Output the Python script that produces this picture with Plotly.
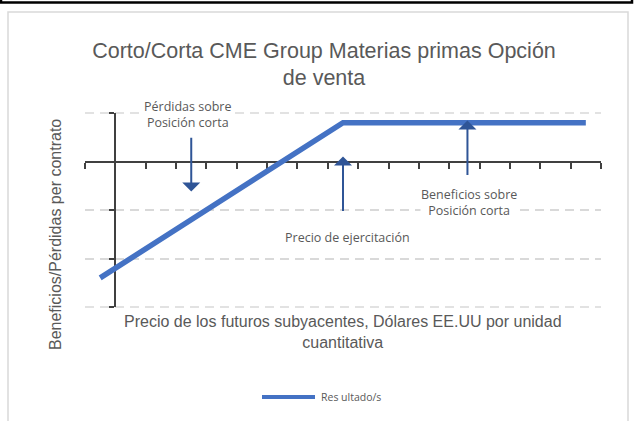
import plotly.graph_objects as go

# ---- data ----
categories = list(range(1, 18))
payoff = [-2.4, -2.0, -1.6, -1.2, -0.8, -0.4, 0.0, 0.4, 0.8,
          0.8, 0.8, 0.8, 0.8, 0.8, 0.8, 0.8, 0.8]
series_name = "Res ultado/s"
y_ticks = [-3, -2, -1, 0, 1]
x_ticks = [i + 0.5 for i in range(0, 18)]

title_text = "Corto/Corta CME Group Materias primas Opción<br>de venta"
x_title = "Precio de los futuros subyacentes, Dólares EE.UU por unidad<br>cuantitativa"
y_title = "Beneficios/Pérdidas per contrato"

W, H = 634, 421
L, R, T, B = 85, 33, 113, 114
PW, PH = W - L - R, H - T - B

def xp(px):
    return (px - L) / PW

def yp(py):
    return (H - B - py) / PH

BLUE = "#4472C4"
DARK = "#2F5597"
GREY = "#595959"
GRID = "#d9d9d9"

fig = go.Figure()
fig.add_trace(go.Scatter(
    x=categories, y=payoff, mode="lines", name=series_name,
    line=dict(color=BLUE, width=5.5), showlegend=False, hoverinfo="skip"))

fig.update_layout(
    width=W, height=H,
    margin=dict(l=L, r=R, t=T, b=B),
    paper_bgcolor="white", plot_bgcolor="white",
    title=dict(text=title_text, x=324 / W, xref="container", xanchor="center",
               y=1 - 57.5 / H, yref="container", yanchor="middle",
               font=dict(family="Liberation Sans, Arial", size=21.5, color=GREY)),
    xaxis=dict(range=[0.5, 17.5], anchor="free", position=0.75,
               showline=True, linecolor="#404040", linewidth=2,
               ticks="outside", tickvals=x_ticks, ticklen=6, tickwidth=2,
               tickcolor="#404040", showticklabels=False, showgrid=False,
               zeroline=False, layer="below traces"),
    yaxis=dict(range=[-3, 1], anchor="free", position=1 / 17,
               showline=True, linecolor="#404040", linewidth=2,
               ticks="outside", tickvals=y_ticks, ticklen=5, tickwidth=2,
               tickcolor="#404040", showticklabels=False,
               showgrid=True, gridcolor=GRID, gridwidth=1.6,
               griddash="9px,6px", zeroline=False, layer="below traces"),
    showlegend=False,
)

# edge gridlines (plotly drops grid lines at the plot edges)
for gy in (0, 1):
    fig.add_shape(type="line", xref="paper", yref="paper", x0=0, x1=1, y0=gy, y1=gy,
                  line=dict(color=GRID, width=1.6, dash="9px,6px"), layer="below")

# frames
fig.add_shape(type="rect", xref="paper", yref="paper",
              x0=xp(8), x1=xp(628), y0=yp(440), y1=yp(12),
              line=dict(color=GRID, width=1.5), layer="below")
fig.add_shape(type="rect", xref="paper", yref="paper",
              x0=xp(1), x1=xp(632), y0=yp(2.5), y1=yp(-20),
              line=dict(color="black", width=2.5), layer="below")

label_font = dict(family="Open Sans, Lato", size=12.5, color=GREY)

# arrows: (x, tip_y, tail_y)
arrows = [(4.0, -0.68, 0.52), (9.0, 0.165, -1.05), (13.1, 0.907, -0.31)]
for ax_, tip, tail in arrows:
    fig.add_annotation(x=ax_, y=tip, ax=ax_, ay=tail, xref="x", yref="y",
                       axref="x", ayref="y", text="", showarrow=True,
                       arrowhead=1, arrowsize=1.5, arrowwidth=2,
                       arrowcolor=DARK, standoff=3)

def label(px, py, text, font, **kw):
    fig.add_annotation(x=xp(px), y=yp(py), xref="paper", yref="paper",
                       xanchor=kw.pop("xanchor", "center"), yanchor="middle",
                       text=text, showarrow=False, font=font, **kw)

label(188, 114.5, "Pérdidas sobre<br>Posición corta", label_font,
      bgcolor="white", borderpad=0)
label(347, 237, "Precio de ejercitación", label_font)
label(469, 202.5, "Beneficios sobre<br>Posición corta", label_font,
      bgcolor="white", borderpad=0)

# axis titles
title_font = dict(family="Liberation Sans, Arial", size=16, color=GREY)
label(342.5, 332, x_title, title_font)
label(55, 235, y_title, title_font, textangle=-90)

# legend
fig.add_shape(type="line", xref="paper", yref="paper",
              x0=xp(262), x1=xp(315), y0=yp(397), y1=yp(397),
              line=dict(color=BLUE, width=4))
label(319, 397, series_name, dict(family="Open Sans, Lato", size=10.5, color=GREY),
      xanchor="left")

fig.write_html("out.html", config={"displayModeBar": False},
               post_script="document.body.style.margin='0px';")
